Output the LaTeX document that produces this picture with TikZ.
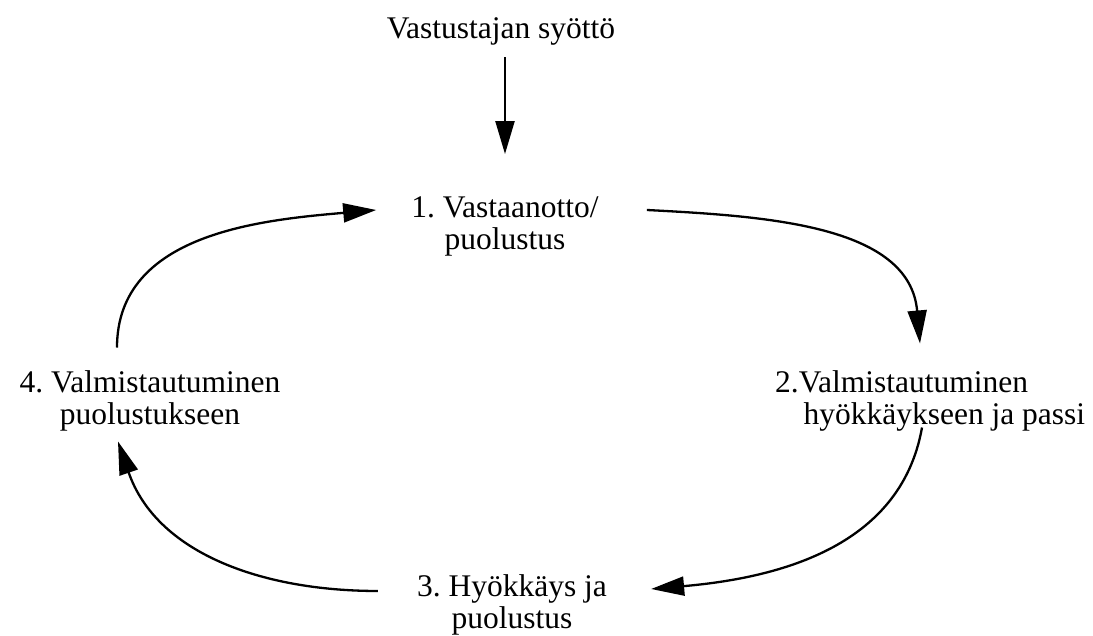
\documentclass[tikz,border=0pt]{standalone}
\usepackage{fontspec}
\setmainfont{Liberation Serif}
\usepackage{tikz}
\usetikzlibrary{positioning}
\usetikzlibrary{arrows.meta}
\usetikzlibrary{calc}
\frenchspacing

\begin{document}
\begin{tikzpicture}[
  x=1pt, y=1pt,
  font=\fontsize{31.5}{32}\selectfont,
  phase/.style={align=center, inner sep=0pt},
  arrow/.style={-{Triangle[length=33pt, width=19pt]}, line width=2.3pt},
]
\useasboundingbox (0,0) rectangle (1093,636);

\node[phase] (serve) at (501,605) {Vastustajan syöttö};
\node[phase] (recv) at (505,410) {1. Vastaanotto/\\puolustus};
\node[phase, anchor=west, align=left] (prep) at (775,235) {2.Valmistautuminen\\\hspace*{0.9em}hyökkäykseen ja passi};
\node[phase] (attack) at (512,31) {3. Hyökkäys ja\\puolustus};
\node[phase] (defprep) at (150,235) {4. Valmistautuminen\\puolustukseen};

\draw[arrow] ($(serve.south)+(4,-12)$) -- ($(recv.north)+(0,42)$);

\draw[arrow] ($(recv.east)+(48,16)$) to[out=-3, in=95] ($(prep.north west)+(145,27)$);
\draw[arrow] ($(prep.south west)+(147,4)$) to[out=-100, in=5] ($(attack.east)+(44,16)$);
\draw[arrow] ($(attack.west)+(-39,14)$) to[out=180, in=-71] ($(defprep.south)+(-32,-10)$);
\draw[arrow] ($(defprep.north)+(-33,23)$) to[out=90, in=185] ($(recv.west)+(-35,16)$);

\end{tikzpicture}
\end{document}
